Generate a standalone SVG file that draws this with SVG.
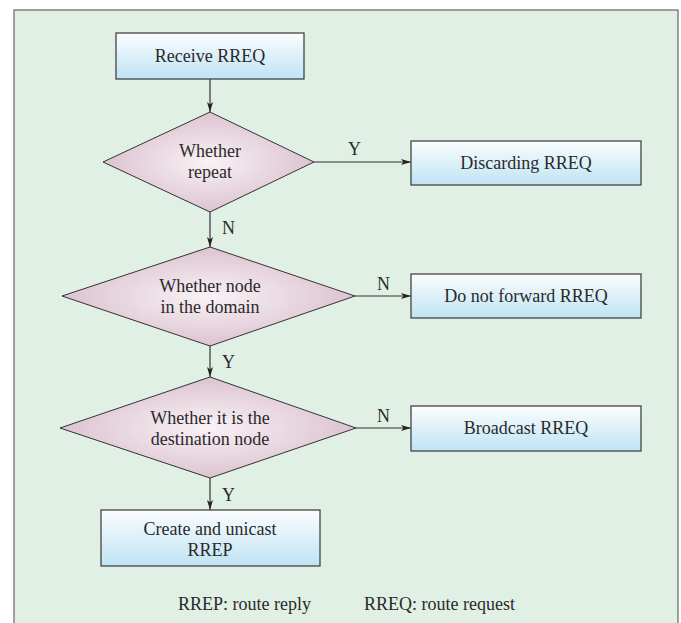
<svg xmlns="http://www.w3.org/2000/svg" width="681" height="623" viewBox="0 0 681 623">
<defs>
<linearGradient id="boxg" x1="0" y1="0" x2="0" y2="1">
<stop offset="0" stop-color="#fbfdfe"/>
<stop offset="1" stop-color="#bfe3f4"/>
</linearGradient>
<radialGradient id="diag" cx="0.5" cy="0.5" r="0.5">
<stop offset="0" stop-color="#f9f2f6"/>
<stop offset="1" stop-color="#dcc3d0"/>
</radialGradient>
<marker id="arr" viewBox="0 0 10 6" refX="10" refY="3" markerWidth="10" markerHeight="6" markerUnits="userSpaceOnUse" orient="auto">
<path d="M0,0 L10,3 L0,6 L2.5,3 Z" fill="#222"/>
</marker>
<style>
.box{fill:url(#boxg);stroke:#444;stroke-width:1.3}
.dia{fill:url(#diag);stroke:#333;stroke-width:1}
text{font-family:'Liberation Serif','DejaVu Serif',serif;font-size:18px;fill:#2a2a2a}
.t{text-anchor:middle}
.c{stroke:#333;stroke-width:1.2;fill:none;marker-end:url(#arr)}
</style>
</defs>
<rect x="0" y="0" width="681" height="623" fill="#ffffff"/>
<rect x="14" y="10" width="664" height="620" fill="#e1f0e4" stroke="#666" stroke-width="1.2"/>

<g id="connectors">
<line class="c" x1="210" y1="79" x2="210" y2="112"/>
<line class="c" x1="314" y1="162" x2="411" y2="162"/>
<line class="c" x1="210" y1="212" x2="210" y2="247"/>
<line class="c" x1="355" y1="296" x2="411" y2="296"/>
<line class="c" x1="210" y1="346" x2="210" y2="377"/>
<line class="c" x1="356" y1="428" x2="411" y2="428"/>
<line class="c" x1="210" y1="478" x2="210" y2="510"/>
<text x="348" y="155">Y</text>
<text x="222" y="234">N</text>
<text x="377" y="290">N</text>
<text x="222" y="368">Y</text>
<text x="377" y="422">N</text>
<text x="222" y="501">Y</text>
</g>

<g id="receive">
<rect class="box" x="116" y="33" width="188" height="46"/>
<text class="t" x="210" y="62">Receive RREQ</text>
</g>

<g id="repeat">
<polygon class="dia" points="210,112 314,162 210,212 103,162"/>
<text class="t" x="210" y="157">Whether</text>
<text class="t" x="210" y="178">repeat</text>
</g>

<g id="discard">
<rect class="box" x="411" y="141" width="230" height="44"/>
<text class="t" x="526" y="169">Discarding RREQ</text>
</g>

<g id="domain">
<polygon class="dia" points="210,247 355,296 210,346 62,296"/>
<text class="t" x="210" y="292">Whether node</text>
<text class="t" x="210" y="313">in the domain</text>
</g>

<g id="noforward">
<rect class="box" x="411" y="274" width="230" height="44"/>
<text class="t" x="526" y="302">Do not forward RREQ</text>
</g>

<g id="destination">
<polygon class="dia" points="210,377 356,428 210,478 60,428"/>
<text class="t" x="210" y="424">Whether it is the</text>
<text class="t" x="210" y="445">destination node</text>
</g>

<g id="broadcast">
<rect class="box" x="411" y="406" width="230" height="45"/>
<text class="t" x="526" y="434">Broadcast RREQ</text>
</g>

<g id="create">
<rect class="box" x="101" y="510" width="219" height="56"/>
<text class="t" x="210" y="535">Create and unicast</text>
<text class="t" x="210" y="556">RREP</text>
</g>

<g id="legend">
<text x="178" y="610">RREP: route reply</text>
<text x="364" y="610">RREQ: route request</text>
</g>
</svg>
